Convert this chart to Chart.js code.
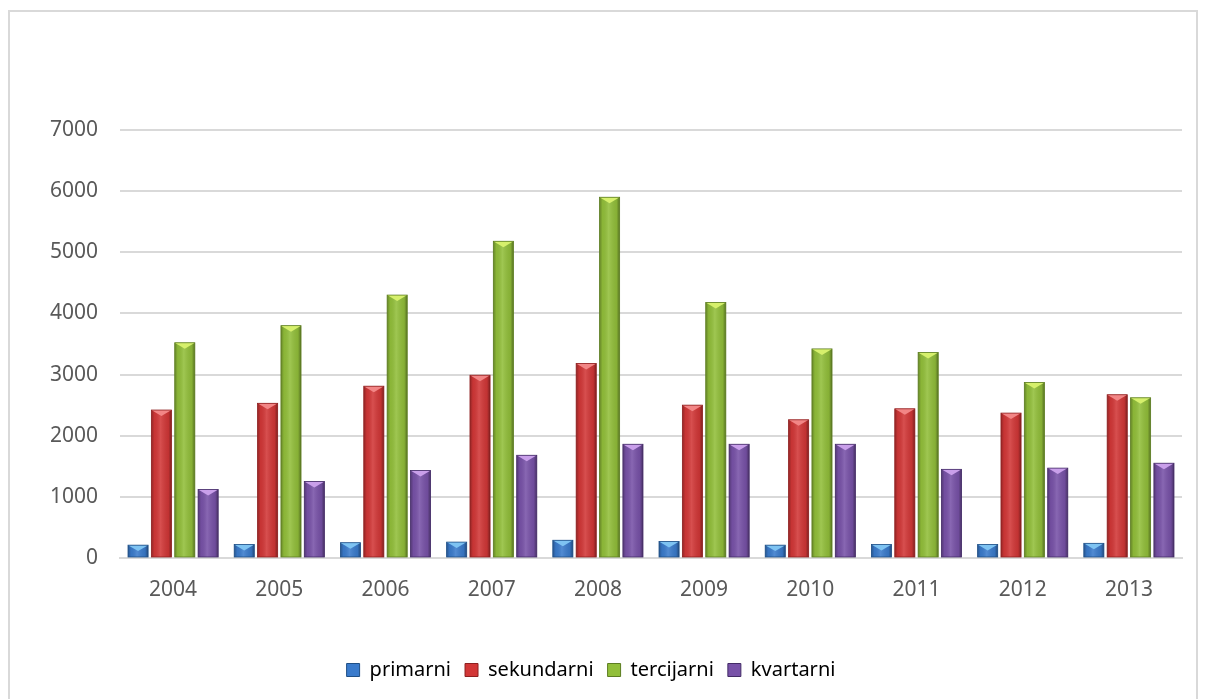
<!DOCTYPE html>
<html>
<head>
<meta charset="utf-8">
<script src="https://cdn.jsdelivr.net/npm/chart.js@4.4.1/dist/chart.umd.min.js"></script>
<style>
  html, body { margin: 0; padding: 0; background: #fff; }
  #wrap { position: relative; width: 1208px; height: 699px; overflow: hidden; }
  #frame { position: absolute; left: 8px; top: 10px; width: 1190px; height: 700px; border: 2px solid #d9d9d9; box-sizing: border-box; }
  canvas { position: absolute; left: 0; top: 0; }
</style>
</head>
<body>
<div id="wrap">
  <div id="frame"></div>
  <canvas id="myChart" width="1208" height="699"></canvas>
</div>
<script>
var years = ['2004', '2005', '2006', '2007', '2008', '2009', '2010', '2011', '2012', '2013'];
var primarni = [210, 220, 250, 260, 290, 270, 210, 220, 220, 240];
var sekundarni = [2420, 2530, 2810, 2990, 3180, 2500, 2260, 2440, 2370, 2670];
var tercijarni = [3520, 3800, 4300, 5180, 5900, 4180, 3420, 3360, 2870, 2620];
var kvartarni = [1120, 1250, 1430, 1680, 1860, 1860, 1860, 1450, 1470, 1550];
var yMax = 7000;
var yStep = 1000;

// base colour, light top, dark edge
var colors = [
  ['#3a7bcc', '#7ec3f2', '#1f4f86'],
  ['#d23737', '#f28686', '#8e2020'],
  ['#92bf3a', '#d6f06c', '#5d7d22'],
  ['#7852a8', '#c99fea', '#432b66']
];

// shading + little pyramid on top of every bar
var bevel = {
  id: 'bevel',
  afterDatasetsDraw: function (chart) {
    var c = chart.ctx;
    chart.data.datasets.forEach(function (ds, i) {
      var meta = chart.getDatasetMeta(i);
      meta.data.forEach(function (bar) {
        var p = bar.getProps(['x', 'y', 'base', 'width'], true);
        var l = p.x - p.width / 2, r = p.x + p.width / 2;
        var g = c.createLinearGradient(l, 0, r, 0);
        g.addColorStop(0, 'rgba(0,0,0,0.30)');
        g.addColorStop(0.15, 'rgba(0,0,0,0.05)');
        g.addColorStop(0.45, 'rgba(255,255,255,0.12)');
        g.addColorStop(0.85, 'rgba(0,0,0,0.08)');
        g.addColorStop(1, 'rgba(0,0,0,0.40)');
        c.fillStyle = g;
        c.fillRect(l, p.y, p.width, p.base - p.y);
        var h = Math.min(6, (p.base - p.y) / 2);
        c.fillStyle = colors[i][1];
        c.beginPath();
        c.moveTo(l, p.y);
        c.lineTo(r, p.y);
        c.lineTo(p.x, p.y + h);
        c.closePath();
        c.fill();
        c.strokeStyle = colors[i][2];
        c.lineWidth = 0.8;
        c.strokeRect(l, p.y, p.width, p.base - p.y);
      });
    });
  }
};

var ctx = document.getElementById('myChart').getContext('2d');
var myChart = new Chart(ctx, {
  type: 'bar',
  data: {
    labels: years,
    datasets: [
      { label: 'primarni', data: primarni, backgroundColor: colors[0][0] },
      { label: 'sekundarni', data: sekundarni, backgroundColor: colors[1][0] },
      { label: 'tercijarni', data: tercijarni, backgroundColor: colors[2][0] },
      { label: 'kvartarni', data: kvartarni, backgroundColor: colors[3][0] }
    ]
  },
  options: {
    responsive: false,
    animation: false,
    devicePixelRatio: 1,
    categoryPercentage: 0.88,
    barPercentage: 0.86,
    layout: { padding: { left: 0, right: 26, top: 130, bottom: 9 } },
    plugins: {
      tooltip: { enabled: false },
      legend: {
        position: 'bottom',
        labels: {
          boxWidth: 13,
          boxHeight: 13,
          padding: 14,
          color: '#404040',
          font: { family: 'Noto Sans', size: 20 },
          generateLabels: function (chart) {
            return chart.data.datasets.map(function (ds, i) {
              return { text: ds.label, fillStyle: colors[i][0], strokeStyle: colors[i][2], lineWidth: 1, datasetIndex: i };
            });
          }
        }
      }
    },
    scales: {
      x: {
        grid: { display: false },
        border: { color: '#d9d9d9', width: 2 },
        ticks: { color: '#595959', font: { family: 'Noto Sans', size: 21 }, padding: 11 },
        afterFit: function (s) { s.height = 88; }
      },
      y: {
        min: 0,
        max: yMax,
        grid: { color: '#d9d9d9', lineWidth: 2, drawTicks: false },
        border: { display: false },
        ticks: {
          stepSize: yStep,
          color: '#595959',
          font: { family: 'Noto Sans', size: 21 },
          padding: 22,
          callback: function (v) { return String(v); }
        },
        afterFit: function (s) { s.width = 120; }
      }
    }
  },
  plugins: [bevel]
});
</script>
</body>
</html>
